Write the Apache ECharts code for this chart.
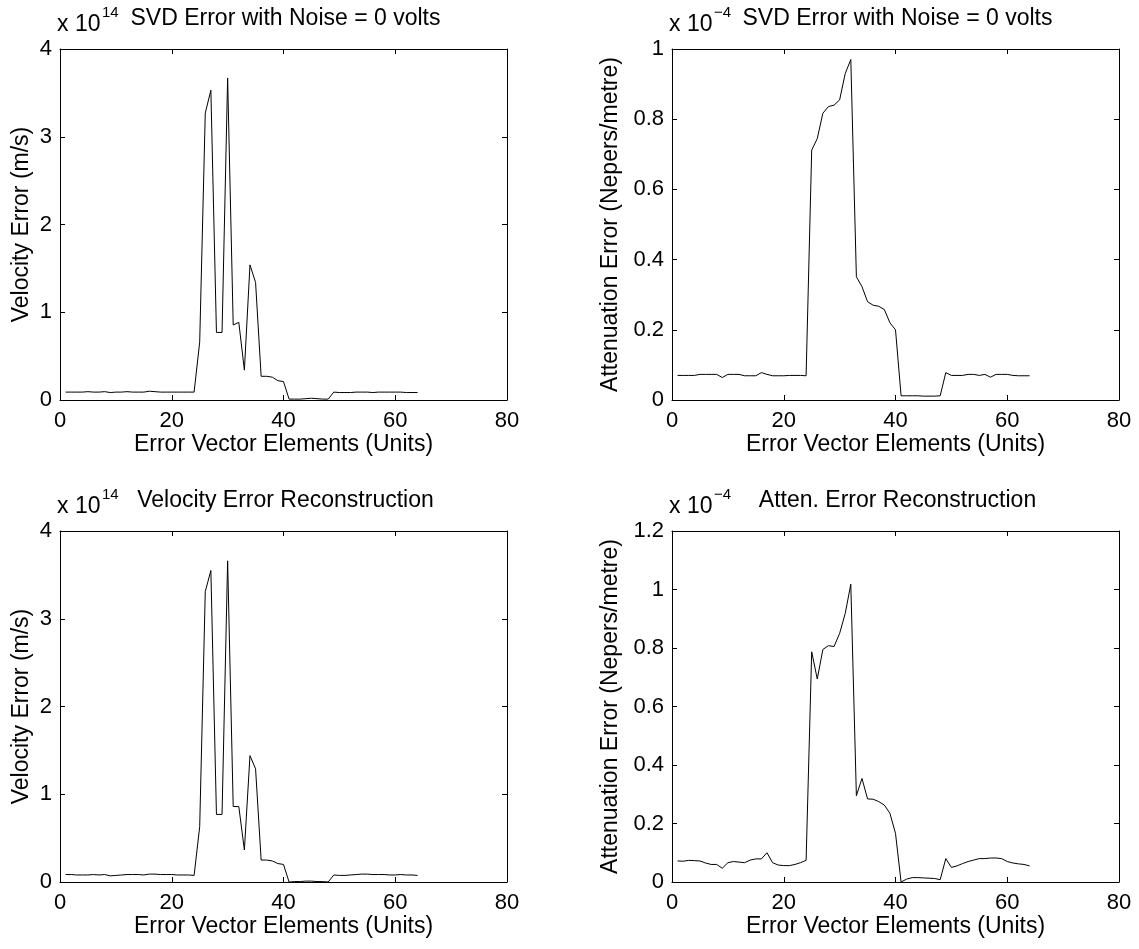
<!DOCTYPE html>
<html>
<head>
<meta charset="utf-8">
<script src="https://cdn.jsdelivr.net/npm/echarts@6/dist/echarts.min.js"></script>
<style>
  html, body { margin: 0; padding: 0; background: #fff; }
  #chart { width: 1139px; height: 949px; }
</style>
</head>
<body>
<div id="chart"></div>
<script>
// values, element 1..64
const velocityError = [
  0.09, 0.09, 0.09, 0.09, 0.095, 0.09, 0.09, 0.095, 0.085, 0.09, 0.09, 0.095,
  0.09, 0.09, 0.09, 0.1, 0.095, 0.09, 0.09, 0.09, 0.09, 0.09, 0.09, 0.09,
  0.66, 3.27, 3.53, 0.77, 0.77, 3.67, 0.855, 0.885, 0.34, 1.54, 1.34, 0.27,
  0.27, 0.26, 0.22, 0.21, 0.01, 0.01, 0.01, 0.015, 0.02, 0.015, 0.01, 0.01,
  0.09, 0.085, 0.085, 0.085, 0.09, 0.09, 0.09, 0.085, 0.09, 0.09, 0.09, 0.09,
  0.09, 0.085, 0.085, 0.085
];
const attenError = [
  0.07, 0.07, 0.07, 0.07, 0.073, 0.073, 0.073, 0.073, 0.064, 0.073, 0.073, 0.073,
  0.069, 0.069, 0.069, 0.078, 0.073, 0.069, 0.069, 0.069, 0.07, 0.07, 0.07, 0.069,
  0.712, 0.745, 0.817, 0.836, 0.84, 0.855, 0.93, 0.97, 0.351, 0.323, 0.28, 0.27,
  0.267, 0.258, 0.22, 0.2, 0.012, 0.012, 0.012, 0.012, 0.011, 0.011, 0.011, 0.012,
  0.078, 0.07, 0.07, 0.07, 0.073, 0.073, 0.07, 0.073, 0.065, 0.073, 0.073, 0.073,
  0.07, 0.069, 0.069, 0.069
];
const velocityRecon = [
  0.085, 0.085, 0.08, 0.08, 0.08, 0.085, 0.08, 0.085, 0.07, 0.075, 0.08, 0.085,
  0.085, 0.085, 0.08, 0.09, 0.09, 0.085, 0.085, 0.085, 0.08, 0.08, 0.08, 0.075,
  0.63, 3.31, 3.55, 0.77, 0.77, 3.66, 0.86, 0.86, 0.365, 1.44, 1.29, 0.25,
  0.25, 0.24, 0.21, 0.2, 0.0, 0.005, 0.005, 0.01, 0.01, 0.005, 0.005, 0.0,
  0.08, 0.075, 0.075, 0.08, 0.085, 0.09, 0.09, 0.085, 0.085, 0.085, 0.08, 0.08,
  0.085, 0.08, 0.08, 0.075
];
const attenRecon = [
  0.072, 0.071, 0.074, 0.073, 0.072, 0.065, 0.06, 0.06, 0.047, 0.066, 0.07, 0.068,
  0.066, 0.075, 0.079, 0.079, 0.1, 0.066, 0.058, 0.056, 0.056, 0.06, 0.066, 0.074,
  0.787, 0.694, 0.795, 0.808, 0.805, 0.85, 0.918, 1.018, 0.295, 0.354, 0.284, 0.283,
  0.275, 0.263, 0.235, 0.166, 0.0, 0.01, 0.015, 0.015, 0.014, 0.013, 0.012, 0.008,
  0.08, 0.05, 0.055, 0.063, 0.07, 0.075, 0.08, 0.08, 0.082, 0.082, 0.08, 0.07,
  0.065, 0.062, 0.06, 0.055
];

const panelTitles = [
  'SVD Error with Noise = 0 volts',
  'SVD Error with Noise = 0 volts',
  'Velocity Error Reconstruction',
  'Atten. Error Reconstruction'
];
const panelExponents = ['14', '\u22124', '14', '\u22124'];
const yNames = [
  'Velocity Error (m/s)',
  'Attenuation Error (Nepers/metre)',
  'Velocity Error (m/s)',
  'Attenuation Error (Nepers/metre)'
];
const yMax = [4, 1, 4, 1.2];
const yStep = [1, 0.2, 1, 0.2];
const xName = 'Error Vector Elements (Units)';
const seriesValues = [velocityError, attenError, velocityRecon, attenRecon];

const FONT = 'Liberation Sans, Arial, sans-serif';
const grids = [
  { left: 60, top: 49, width: 447, height: 351 },
  { left: 672, top: 49, width: 447, height: 351 },
  { left: 60, top: 531, width: 447, height: 351 },
  { left: 672, top: 531, width: 447, height: 351 }
];
const yNameGap = [27, 50, 27, 50];

const line = { show: true, onZero: false, lineStyle: { color: '#000', width: 1 } };
const tick = { show: true, inside: true, length: 5, lineStyle: { color: '#000', width: 1 } };
const label = { color: '#000', fontFamily: FONT, fontSize: 22 };
const nameStyle = { color: '#000', fontFamily: FONT, fontSize: 23 };

const xAxes = [];
const yAxes = [];
const series = [];
const graphics = [];

grids.forEach((g, i) => {
  xAxes.push({
    gridIndex: i, type: 'value', min: 0, max: 80, interval: 20,
    name: xName, nameLocation: 'middle', nameGap: 33, nameTextStyle: nameStyle,
    axisLine: line, axisTick: tick, axisLabel: Object.assign({ margin: 10 }, label),
    splitLine: { show: false }
  });
  xAxes.push({
    gridIndex: i, type: 'value', position: 'top', min: 0, max: 80, interval: 20,
    axisLine: line, axisTick: tick, axisLabel: { show: false }, splitLine: { show: false }
  });
  yAxes.push({
    gridIndex: i, type: 'value', min: 0, max: yMax[i], interval: yStep[i],
    name: yNames[i], nameLocation: 'middle', nameGap: yNameGap[i], nameRotate: 90,
    nameTextStyle: nameStyle,
    axisLine: line, axisTick: tick, axisLabel: Object.assign({ margin: 8 }, label),
    splitLine: { show: false }
  });
  yAxes.push({
    gridIndex: i, type: 'value', position: 'right', min: 0, max: yMax[i], interval: yStep[i],
    axisLine: line, axisTick: tick, axisLabel: { show: false }, splitLine: { show: false }
  });
  series.push({
    type: 'line', xAxisIndex: i * 2, yAxisIndex: i * 2,
    data: seriesValues[i].map((v, k) => [k + 1, v]),
    symbol: 'none', lineStyle: { color: '#000', width: 1 }, animation: false
  });
  const ty = g.top - 31;
  graphics.push({
    type: 'text', left: g.left - 3, top: ty - 5,
    style: { text: 'x 10', font: '23px ' + FONT, fill: '#000' }
  });
  graphics.push({
    type: 'text', left: g.left + 42, top: ty - 13,
    style: { text: panelExponents[i], font: '15px ' + FONT, fill: '#000' }
  });
  graphics.push({
    type: 'text', x: g.left + g.width / 2 + 2, y: ty - 11,
    style: { text: panelTitles[i], font: '23px ' + FONT, fill: '#000', textAlign: 'center' }
  });
});

const chart = echarts.init(document.getElementById('chart'));
chart.setOption({
  backgroundColor: '#fff',
  animation: false,
  grid: grids,
  xAxis: xAxes,
  yAxis: yAxes,
  series: series,
  graphic: graphics
});
</script>
</body>
</html>
